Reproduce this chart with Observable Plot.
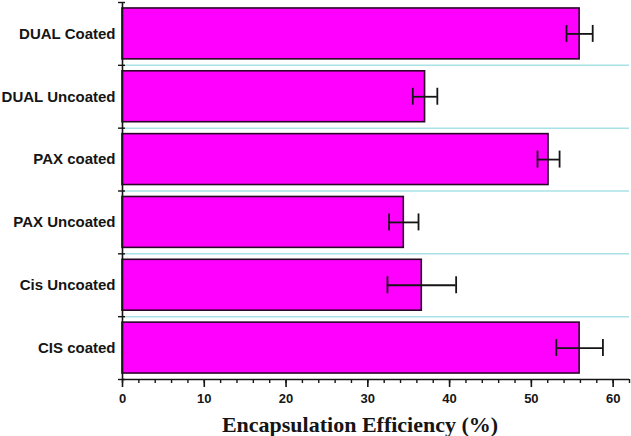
<!DOCTYPE html>
<html>
<head>
<meta charset="utf-8">
<script src="https://cdn.jsdelivr.net/npm/d3@7"></script>
<script src="https://cdn.jsdelivr.net/npm/@observablehq/plot@0.6"></script>
<style>
  html, body { margin: 0; padding: 0; background: #fff; }
</style>
</head>
<body>
<div id="chart"></div>
<script>
const categories = ["DUAL Coated", "DUAL Uncoated", "PAX coated", "PAX Uncoated", "Cis Uncoated", "CIS coated"];
const efficiency = [55.9, 37.0, 52.1, 34.4, 36.6, 55.9];
const errors = [1.6, 1.5, 1.35, 1.8, 4.2, 2.85];
const xMajorTicks = [0, 10, 20, 30, 40, 50, 60];
const xMinorTicks = d3.range(0, 63, 2);
const axisTitle = "Encapsulation Efficiency (%)";

const data = categories.map((c, i) => ({ i, category: c, value: efficiency[i], err: errors[i] }));
const bounds = d3.range(-0.5, categories.length, 1);
const innerBounds = bounds.slice(1, -1);

const ink = "#151515";

const chart = Plot.plot({
  width: 631,
  height: 436,
  marginLeft: 122,
  marginRight: 2,
  marginTop: 2,
  marginBottom: 57,
  style: { fontFamily: "'Liberation Sans', Arial, sans-serif", color: ink, background: "#fff" },
  x: { domain: [0, 62] },
  y: { domain: [categories.length - 0.5, -0.5] },
  marks: [
    Plot.ruleY(innerBounds, { stroke: "#a8e2e7", strokeWidth: 1.5 }),
    Plot.rectX(data, {
      x1: 0,
      x2: "value",
      y1: d => d.i - 0.405,
      y2: d => d.i + 0.405,
      fill: "#ff00ff",
      stroke: "#2a0629",
      strokeWidth: 1.6
    }),
    Plot.ruleY(data, { y: "i", x1: d => d.value - d.err, x2: d => d.value + d.err, stroke: ink, strokeWidth: 1.8 }),
    Plot.ruleX(data, { x: d => d.value - d.err, y1: d => d.i - 0.135, y2: d => d.i + 0.135, stroke: ink, strokeWidth: 1.8 }),
    Plot.ruleX(data, { x: d => d.value + d.err, y1: d => d.i - 0.135, y2: d => d.i + 0.135, stroke: ink, strokeWidth: 1.8 }),
    Plot.ruleX([0], { stroke: ink, strokeWidth: 1.6 }),
    Plot.ruleY([categories.length - 0.5], { stroke: ink, strokeWidth: 1.6 }),
    Plot.axisY(bounds, { tickSize: 7, dx: 3, tickFormat: () => "", label: null, stroke: ink, strokeWidth: 1.4 }),
    Plot.axisY(d3.range(categories.length), {
      tickSize: 0, tickPadding: 7, tickFormat: i => categories[i], label: null,
      fontSize: 15, fontWeight: "bold", fill: ink
    }),
    Plot.axisX(xMinorTicks, { tickSize: 4, tickFormat: () => "", label: null, stroke: ink, strokeWidth: 1.4 }),
    Plot.axisX(xMajorTicks, {
      tickSize: 8, tickPadding: 6, label: null, stroke: ink, strokeWidth: 1.6,
      fontSize: 13, fontWeight: "bold", fill: ink
    }),
    Plot.text([axisTitle], {
      text: d => d, frameAnchor: "bottom", dx: -16, dy: 45.4,
      fontFamily: "'Liberation Serif', 'Times New Roman', serif",
      fontSize: 22, fontWeight: "bold", fill: ink, lineAnchor: "middle"
    })
  ]
});
document.getElementById("chart").appendChild(chart);
</script>
</body>
</html>
